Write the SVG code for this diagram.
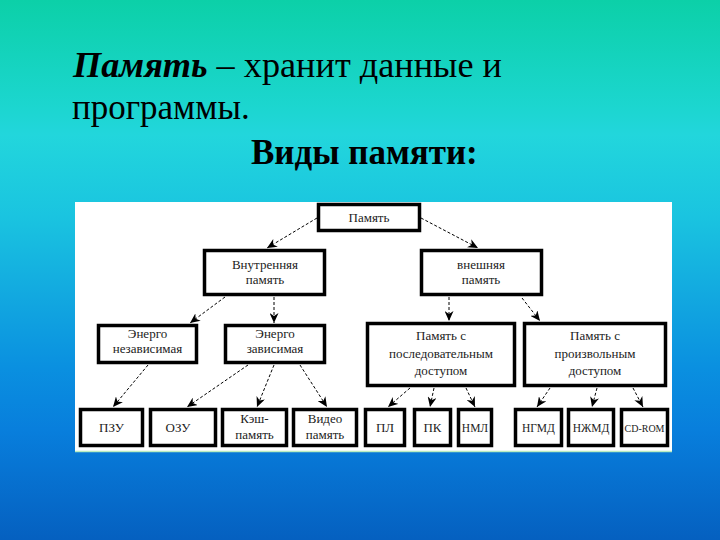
<svg xmlns="http://www.w3.org/2000/svg" width="720" height="540" viewBox="0 0 720 540">
<defs>
<linearGradient id="bg" x1="0" y1="0" x2="0" y2="1">
<stop offset="0" stop-color="#0cd0a8"/>
<stop offset="0.2" stop-color="#1cd6d0"/>
<stop offset="0.25" stop-color="#22d6dc"/>
<stop offset="0.4" stop-color="#1ac4e0"/>
<stop offset="0.55" stop-color="#12a8e0"/>
<stop offset="0.68" stop-color="#0a90e0"/>
<stop offset="0.8" stop-color="#087edc"/>
<stop offset="1" stop-color="#0560c0"/>
</linearGradient>
<marker id="ah" markerUnits="userSpaceOnUse" markerWidth="11" markerHeight="9" refX="10" refY="4.5" orient="auto">
<path d="M0,0 L10,4.5 L0,9 L3,4.5 Z" fill="#000"/>
</marker>
<style>
.box{fill:#fff;stroke:#000;stroke-width:3.5}
.t{font-family:"Liberation Serif","Times New Roman",serif;font-size:13px;fill:#222;text-anchor:middle}
.t.s{font-size:11.5px}
.t.xs{font-size:10px}
.c{stroke:#000;stroke-width:1;stroke-dasharray:3 2;fill:none;marker-end:url(#ah)}
.h{font-family:"Liberation Serif","Times New Roman",serif;font-size:35px;fill:#000}
</style>
</defs>
<rect width="720" height="540" fill="url(#bg)"/>
<text class="h" x="73" y="77" textLength="429" lengthAdjust="spacingAndGlyphs"><tspan font-weight="bold" font-style="italic">Память</tspan> – хранит данные и</text>
<text class="h" x="72" y="119">программы.</text>
<text class="h" x="251" y="164" font-weight="bold">Виды памяти:</text>
<rect x="75" y="202" width="597" height="250" fill="#fff"/>
<line x1="75" y1="451.5" x2="672" y2="451.5" stroke="#b8ecc0" stroke-width="1.5"/>
<g id="connectors">
<line class="c" x1="317" y1="218" x2="267" y2="248"/>
<line class="c" x1="421" y1="218" x2="478" y2="248"/>
<line class="c" x1="225" y1="297" x2="190" y2="323"/>
<line class="c" x1="274" y1="297" x2="274" y2="323"/>
<line class="c" x1="449" y1="297" x2="449" y2="321"/>
<line class="c" x1="522" y1="298" x2="540" y2="321"/>
<line class="c" x1="148" y1="365" x2="113" y2="407"/>
<line class="c" x1="248" y1="365" x2="187" y2="407"/>
<line class="c" x1="274" y1="365" x2="257" y2="407"/>
<line class="c" x1="300" y1="365" x2="327" y2="407"/>
<line class="c" x1="410" y1="388" x2="388" y2="407"/>
<line class="c" x1="434" y1="388" x2="430" y2="407"/>
<line class="c" x1="466" y1="388" x2="475" y2="407"/>
<line class="c" x1="550" y1="388" x2="537" y2="407"/>
<line class="c" x1="597" y1="388" x2="592" y2="407"/>
<line class="c" x1="633" y1="388" x2="643" y2="407"/>
</g>
<g id="n-pamyat"><rect class="box" x="318.5" y="204.5" width="101" height="26"/><text class="t" x="369" y="222">Память</text></g>
<g id="n-vnutr"><rect class="box" x="204.5" y="250.5" width="120" height="44"/><text class="t" x="265" y="269">Внутренняя</text><text class="t" x="265" y="284">память</text></g>
<g id="n-vnesh"><rect class="box" x="421.5" y="250.5" width="120" height="44"/><text class="t" x="481" y="269">внешняя</text><text class="t" x="481" y="284">память</text></g>
<g id="n-nezav"><rect class="box" x="98.5" y="325.5" width="98" height="37"/><text class="t" x="147.5" y="338">Энерго</text><text class="t" x="147.5" y="353">независимая</text></g>
<g id="n-zav"><rect class="box" x="225.5" y="325.5" width="99" height="37"/><text class="t" x="275" y="338">Энерго</text><text class="t" x="275" y="353">зависимая</text></g>
<g id="n-posl"><rect class="box" x="367.5" y="323.5" width="147" height="62"/><text class="t" x="441" y="340">Память с</text><text class="t" x="441" y="358">последовательным</text><text class="t" x="441" y="375">доступом</text></g>
<g id="n-proizv"><rect class="box" x="524.5" y="323.5" width="141" height="62"/><text class="t" x="595" y="340">Память с</text><text class="t" x="595" y="358">произвольным</text><text class="t" x="595" y="375">доступом</text></g>
<g id="n-pzu"><rect class="box" x="80.5" y="409.5" width="62" height="36"/><text class="t" x="111.5" y="432">ПЗУ</text></g>
<g id="n-ozu"><rect class="box" x="150.5" y="409.5" width="65" height="36"/><text class="t" x="178" y="432">ОЗУ</text></g>
<g id="n-kesh"><rect class="box" x="222.5" y="409.5" width="64" height="36"/><text class="t" x="254.5" y="423">Кэш-</text><text class="t" x="254.5" y="439">память</text></g>
<g id="n-video"><rect class="box" x="293.5" y="409.5" width="63" height="36"/><text class="t" x="325" y="423">Видео</text><text class="t" x="325" y="439">память</text></g>
<g id="n-pl"><rect class="box" x="365.5" y="409.5" width="39" height="36"/><text class="t" x="385" y="432">ПЛ</text></g>
<g id="n-pk"><rect class="box" x="414.5" y="409.5" width="36" height="36"/><text class="t" x="432.5" y="432">ПК</text></g>
<g id="n-nml"><rect class="box" x="458.5" y="409.5" width="33" height="36"/><text class="t s" x="475" y="432">НМЛ</text></g>
<g id="n-ngmd"><rect class="box" x="515.5" y="409.5" width="46" height="36"/><text class="t s" x="538.5" y="432">НГМД</text></g>
<g id="n-nzhmd"><rect class="box" x="568.5" y="409.5" width="45" height="36"/><text class="t s" x="591" y="432">НЖМД</text></g>
<g id="n-cdrom"><rect class="box" x="621.5" y="409.5" width="46" height="36"/><text class="t xs" x="644.5" y="432">CD-ROM</text></g>
</svg>
